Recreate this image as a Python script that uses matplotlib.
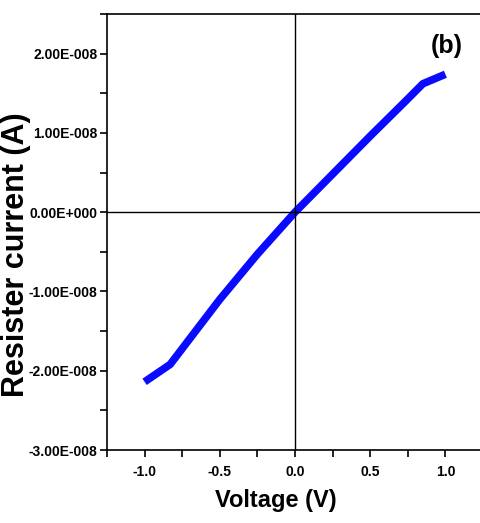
import matplotlib
matplotlib.use("Agg")
import matplotlib.pyplot as plt
from matplotlib.ticker import MultipleLocator, FuncFormatter

voltage = [-1.0, -0.83, -0.5, -0.25, 0.0, 0.25, 0.5, 0.74, 0.85, 1.0]
current = [-2.14e-8, -1.92e-8, -1.10e-8, -0.53e-8, 0.0, 0.48e-8, 0.96e-8, 1.41e-8, 1.62e-8, 1.74e-8]

yticks = [-3e-8, -2e-8, -1e-8, 0.0, 1e-8, 2e-8]
ytick_labels = ["-3.00E-008", "-2.00E-008", "-1.00E-008", "0.00E+000", "1.00E-008", "2.00E-008"]
xticks = [-1.0, -0.5, 0.0, 0.5, 1.0]

narrow = ["Liberation Sans Narrow", "Liberation Sans", "DejaVu Sans"]

fig = plt.figure(figsize=(4.81, 5.23), dpi=100)
ax = fig.add_axes([107/481, 73/523, 376/481, 436/523])

ax.plot(voltage, current, color="#0a0aff", lw=5.5, solid_capstyle="butt")
ax.axhline(0, color="black", lw=1)
ax.axvline(0, color="black", lw=1)

ax.set_xlim(-1.25, 1.25)
ax.set_ylim(-3e-8, 2.5e-8)
ax.set_xticks(xticks)
ax.set_yticks(yticks)
ax.set_yticklabels(ytick_labels)
ax.xaxis.set_major_formatter(FuncFormatter(lambda v, p: "%.1f" % v))
ax.xaxis.set_minor_locator(MultipleLocator(0.25))
ax.yaxis.set_minor_locator(MultipleLocator(0.5e-8))

ax.tick_params(which="both", direction="out", length=5, width=1.2, top=False, right=False)
ax.tick_params(axis="y", pad=2)
ax.tick_params(axis="x", pad=6)
for lab in ax.get_xticklabels() + ax.get_yticklabels():
    lab.set_family(narrow)
    lab.set_fontweight("bold")
    lab.set_fontsize(10)
for s in ax.spines.values():
    s.set_linewidth(1.2)

ax.text(1.01, 2.1e-8, "(b)", family=narrow, fontweight="bold", fontsize=18, ha="center", va="center")

fig.text(276/481, 1 - 500/523, "Voltage (V)", family=narrow, fontweight="bold", fontsize=17, ha="center", va="center")
fig.text(16/481, 1 - 255/523, "Resister current (A)", family=["Liberation Sans", "DejaVu Sans"],
         fontweight="bold", fontsize=22, rotation=90, ha="center", va="center")

fig.savefig("out.png", dpi=100)
